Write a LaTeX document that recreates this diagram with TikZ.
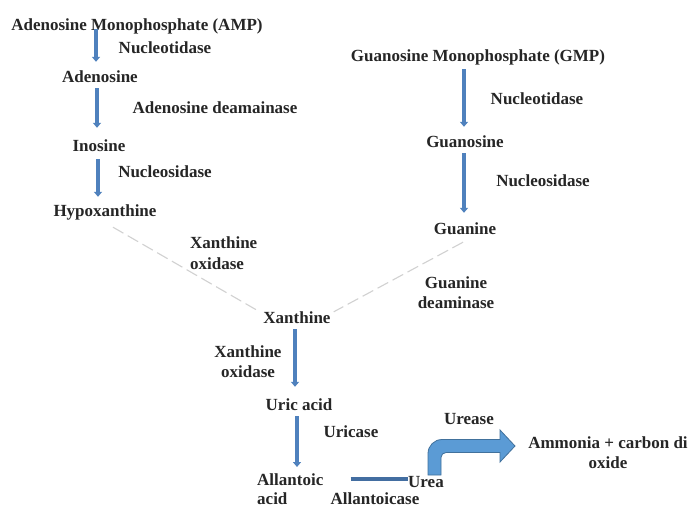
\documentclass[tikz,border=0pt]{standalone}
\usepackage{fontspec}
\setmainfont{Liberation Serif}
\usetikzlibrary{calc,arrows.meta}
\definecolor{txt}{RGB}{38,38,38}
\definecolor{flowc}{RGB}{79,129,189}
\definecolor{bentfill}{RGB}{91,155,213}
\definecolor{bentdraw}{RGB}{65,113,156}
\tikzset{
  lbl/.style={font=\bfseries\fontsize{17}{20.4}\selectfont, text=txt, inner sep=0pt, text height=12pt, text depth=4pt, anchor=base},
  mlbl/.style={font=\bfseries\fontsize{17}{20.4}\selectfont, text=txt, inner sep=0pt},
  flow/.style={draw=flowc, line width=3.5pt, -{Triangle[width=8pt,length=5pt]}},
  bar/.style={draw=flowc!85!black, line width=4pt},
  dline/.style={draw=black!18, line width=1.1pt, dash pattern=on 12pt off 5pt},
  bent/.style={fill=bentfill, draw=bentdraw, line width=0.8pt, line join=miter}
}
\begin{document}
\begin{tikzpicture}[x=1pt,y=-1pt]
\path[use as bounding box, fill=white] (0,0) rectangle (691,509);
% left column
\node[lbl] (amp) at (137,30) {Adenosine Monophosphate (AMP)};
\node[lbl] (nuc1) at (165,53) {Nucleotidase};
\node[lbl] (adenosine) at (100,82) {Adenosine};
\node[lbl] (ada) at (215,113) {Adenosine deamainase};
\node[lbl] (inosine) at (99,151) {Inosine};
\node[lbl] (nucs1) at (165,177) {Nucleosidase};
\node[lbl] (hypox) at (105,216) {Hypoxanthine};
\node[mlbl, anchor=north west, align=left] (xo1) at (190,237) {Xanthine\\oxidase};
% right column
\node[lbl] (gmp) at (478,61) {Guanosine Monophosphate (GMP)};
\node[lbl] (nuc2) at (537,104) {Nucleotidase};
\node[lbl] (guanosine) at (465,147) {Guanosine};
\node[lbl] (nucs2) at (543,186) {Nucleosidase};
\node[lbl] (guanine) at (465,234) {Guanine};
\node[mlbl, anchor=north, align=center] (gd) at (456,276) {Guanine\\deaminase};
% middle
\node[lbl] (xanthine) at (297,323) {Xanthine};
\node[mlbl, anchor=north, align=center] (xo2) at (248,345) {Xanthine\\oxidase};
\node[lbl] (uric) at (299,410) {Uric acid};
\node[lbl] (uricase) at (351,437) {Uricase};
\node[mlbl, anchor=north west, align=left] (allantoic) at (257,473) {Allantoic\\[-1pt]acid};
\node[lbl] (urea) at (426,487) {Urea};
\node[mlbl, anchor=base] (allantoicase) at (375,504) {Allantoicase};
\node[lbl] (urease) at (469,424) {Urease};
\node[mlbl, anchor=north, align=center] (ammonia) at (608,436) {Ammonia + carbon di\\oxide};
% vertical arrows
\draw[flow, shorten <=-5pt, shorten >=8pt] (amp.south -| 96,0) -- (adenosine.north -| 96,0);
\draw[flow, shorten <=2pt, shorten >=11pt] (adenosine.south -| 97,0) -- (inosine.north -| 97,0);
\draw[flow, shorten <=4pt, shorten >=7pt] (inosine.south -| 98,0) -- (hypox.north -| 98,0);
\draw[flow, shorten <=4pt, shorten >=8pt] (gmp.south -| 464,0) -- (guanosine.north -| 464,0);
\draw[flow, shorten <=2pt, shorten >=9pt] (guanosine.south -| 464,0) -- (guanine.north -| 464,0);
\draw[flow, shorten <=2pt, shorten >=11pt] (xanthine.south -| 295,0) -- (uric.north -| 295,0);
\draw[flow, shorten <=2pt, shorten >=6pt] (uric.south -| 297,0) -- (allantoic.north -| 297,0);
% dashed converging lines
\draw[dline] ($(hypox.south)+(8,7)$) -- ($(xanthine.north west)+(-7,-1)$);
\draw[dline] ($(guanine.south)+(-2,4)$) -- ($(xanthine.north east)+(3,1)$);
% allantoic acid -> urea bar
\draw[bar, shorten <=27pt] ([yshift=8pt]urea.base west -| allantoic.east) -- ([yshift=8pt]urea.base west);
% bent arrow urea -> ammonia
\filldraw[bent] (428,475) -- (428,453.5) .. controls (428,445.8) and (434.3,439.5) .. (442,439.5)
  -- (500,439.5) -- (500,430) -- (515,446) -- (500,462) -- (500,452.5) -- (446,452.5)
  .. controls (443.2,452.5) and (441,454.7) .. (441,457.5) -- (441,475) -- cycle;
\end{tikzpicture}
\end{document}
